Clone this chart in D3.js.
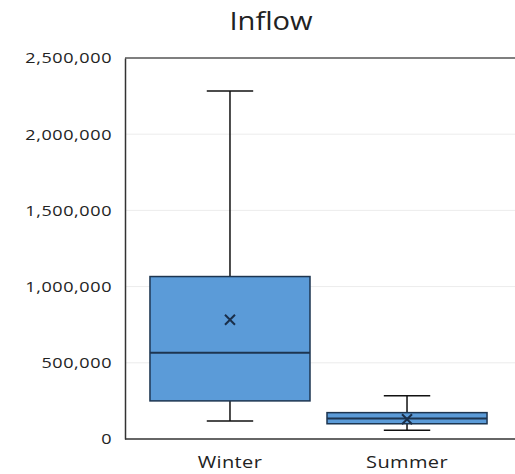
<!DOCTYPE html>
<html>
<head>
<meta charset="utf-8">
<script src="https://cdn.jsdelivr.net/npm/d3@7/dist/d3.min.js"></script>
<style>
html,body{margin:0;padding:0;background:#fff;}
svg{display:block;}
</style>
</head>
<body>
<svg id="chart" width="515" height="474"></svg>
<script>
const categories = ["Winter", "Summer"];
const whiskerMin = [118000, 57000];
const q1Values = [250000, 100000];
const medianValues = [566000, 135000];
const q3Values = [1066000, 173000];
const whiskerMax = [2283000, 283000];
const meanValues = [783000, 130000];
const yTicks = [0, 500000, 1000000, 1500000, 2000000, 2500000];
const titleText = "Inflow";

(function () {
const svg = d3.select("#chart");
const mLeft = 125, mTop = 58, mBottom = 439, frameRight = 520;
const stretchY = 1.2, stretchX = 1.25;

const y = d3.scaleLinear().domain([0, 2500000]).range([mBottom, mTop]);
const x = d3.scaleBand().domain(categories).range([mLeft, 512]).paddingInner(0.096).paddingOuter(0.141);

const fmt = d3.format(",");

// gridlines
svg.append("g").selectAll("line").data(yTicks.slice(1, -1)).join("line")
  .attr("x1", mLeft).attr("x2", frameRight)
  .attr("y1", d => y(d)).attr("y2", d => y(d))
  .attr("stroke", "#ececec").attr("stroke-width", 1);

// frame top
svg.append("line").attr("x1", mLeft).attr("x2", frameRight)
  .attr("y1", y(2500000)).attr("y2", y(2500000))
  .attr("stroke", "#555").attr("stroke-width", 1.5);

// y axis
const yAxis = d3.axisLeft(y).tickValues(yTicks).tickFormat(fmt).tickSize(0).tickPadding(13);
const ga = svg.append("g").attr("transform", `translate(${mLeft},0)`).call(yAxis);
ga.select(".domain").attr("stroke", "#333").attr("stroke-width", 1.5);
ga.selectAll("text").attr("font-family", "Open Sans, sans-serif").attr("font-size", 15)
  .attr("letter-spacing", 0.5).attr("fill", "#222")
  .attr("x", -13 / stretchY).attr("transform", `scale(${stretchY},1)`);

// x axis
const xAxis = d3.axisBottom(x).tickSize(0).tickPadding(18);
const gx = svg.append("g").attr("transform", `translate(0,${mBottom})`).call(xAxis);
gx.select(".domain").remove();
svg.append("line").attr("x1", mLeft).attr("x2", frameRight).attr("y1", mBottom).attr("y2", mBottom)
  .attr("stroke", "#333").attr("stroke-width", 1.5);
gx.selectAll("text").attr("font-family", "Open Sans, sans-serif").attr("font-size", 16)
  .attr("letter-spacing", 0.3).attr("fill", "#222")
  .attr("transform", `scale(${stretchX},1)`);

const data = categories.map((c, i) => ({c, lo: whiskerMin[i], q1: q1Values[i], med: medianValues[i], q3: q3Values[i], hi: whiskerMax[i], mean: meanValues[i]}));
const bw = x.bandwidth();
const capW = bw * 0.29;

const g = svg.append("g").selectAll("g").data(data).join("g");
g.append("line").attr("x1", d => x(d.c) + bw/2).attr("x2", d => x(d.c) + bw/2)
  .attr("y1", d => y(d.hi)).attr("y2", d => y(d.q3)).attr("stroke", "#111").attr("stroke-width", 1.5);
g.append("line").attr("x1", d => x(d.c) + bw/2).attr("x2", d => x(d.c) + bw/2)
  .attr("y1", d => y(d.q1)).attr("y2", d => y(d.lo)).attr("stroke", "#111").attr("stroke-width", 1.5);
g.append("line").attr("x1", d => x(d.c) + bw/2 - capW/2).attr("x2", d => x(d.c) + bw/2 + capW/2)
  .attr("y1", d => y(d.hi)).attr("y2", d => y(d.hi)).attr("stroke", "#111").attr("stroke-width", 1.5);
g.append("line").attr("x1", d => x(d.c) + bw/2 - capW/2).attr("x2", d => x(d.c) + bw/2 + capW/2)
  .attr("y1", d => y(d.lo)).attr("y2", d => y(d.lo)).attr("stroke", "#111").attr("stroke-width", 1.5);
g.append("rect").attr("x", d => x(d.c)).attr("width", bw)
  .attr("y", d => y(d.q3)).attr("height", d => y(d.q1) - y(d.q3))
  .attr("fill", "#5b9bd8").attr("stroke", "#1d3550").attr("stroke-width", 1.5);
g.append("line").attr("x1", d => x(d.c)).attr("x2", d => x(d.c) + bw)
  .attr("y1", d => y(d.med)).attr("y2", d => y(d.med)).attr("stroke", "#1d3550").attr("stroke-width", 2);
const s = 5;
g.append("path").attr("d", d => {
  const cx = x(d.c) + bw/2, cy = y(d.mean);
  return `M${cx-s},${cy-s}L${cx+s},${cy+s}M${cx-s},${cy+s}L${cx+s},${cy-s}`;
}).attr("stroke", "#1a2f4a").attr("stroke-width", 2).attr("fill", "none");

svg.append("g").attr("transform", "translate(271,30) scale(1.12,1)")
  .append("text").attr("text-anchor", "middle")
  .attr("font-family", "Open Sans, sans-serif").attr("font-size", 26)
  .attr("fill", "#222").text(titleText);
})();
</script>
</body>
</html>
